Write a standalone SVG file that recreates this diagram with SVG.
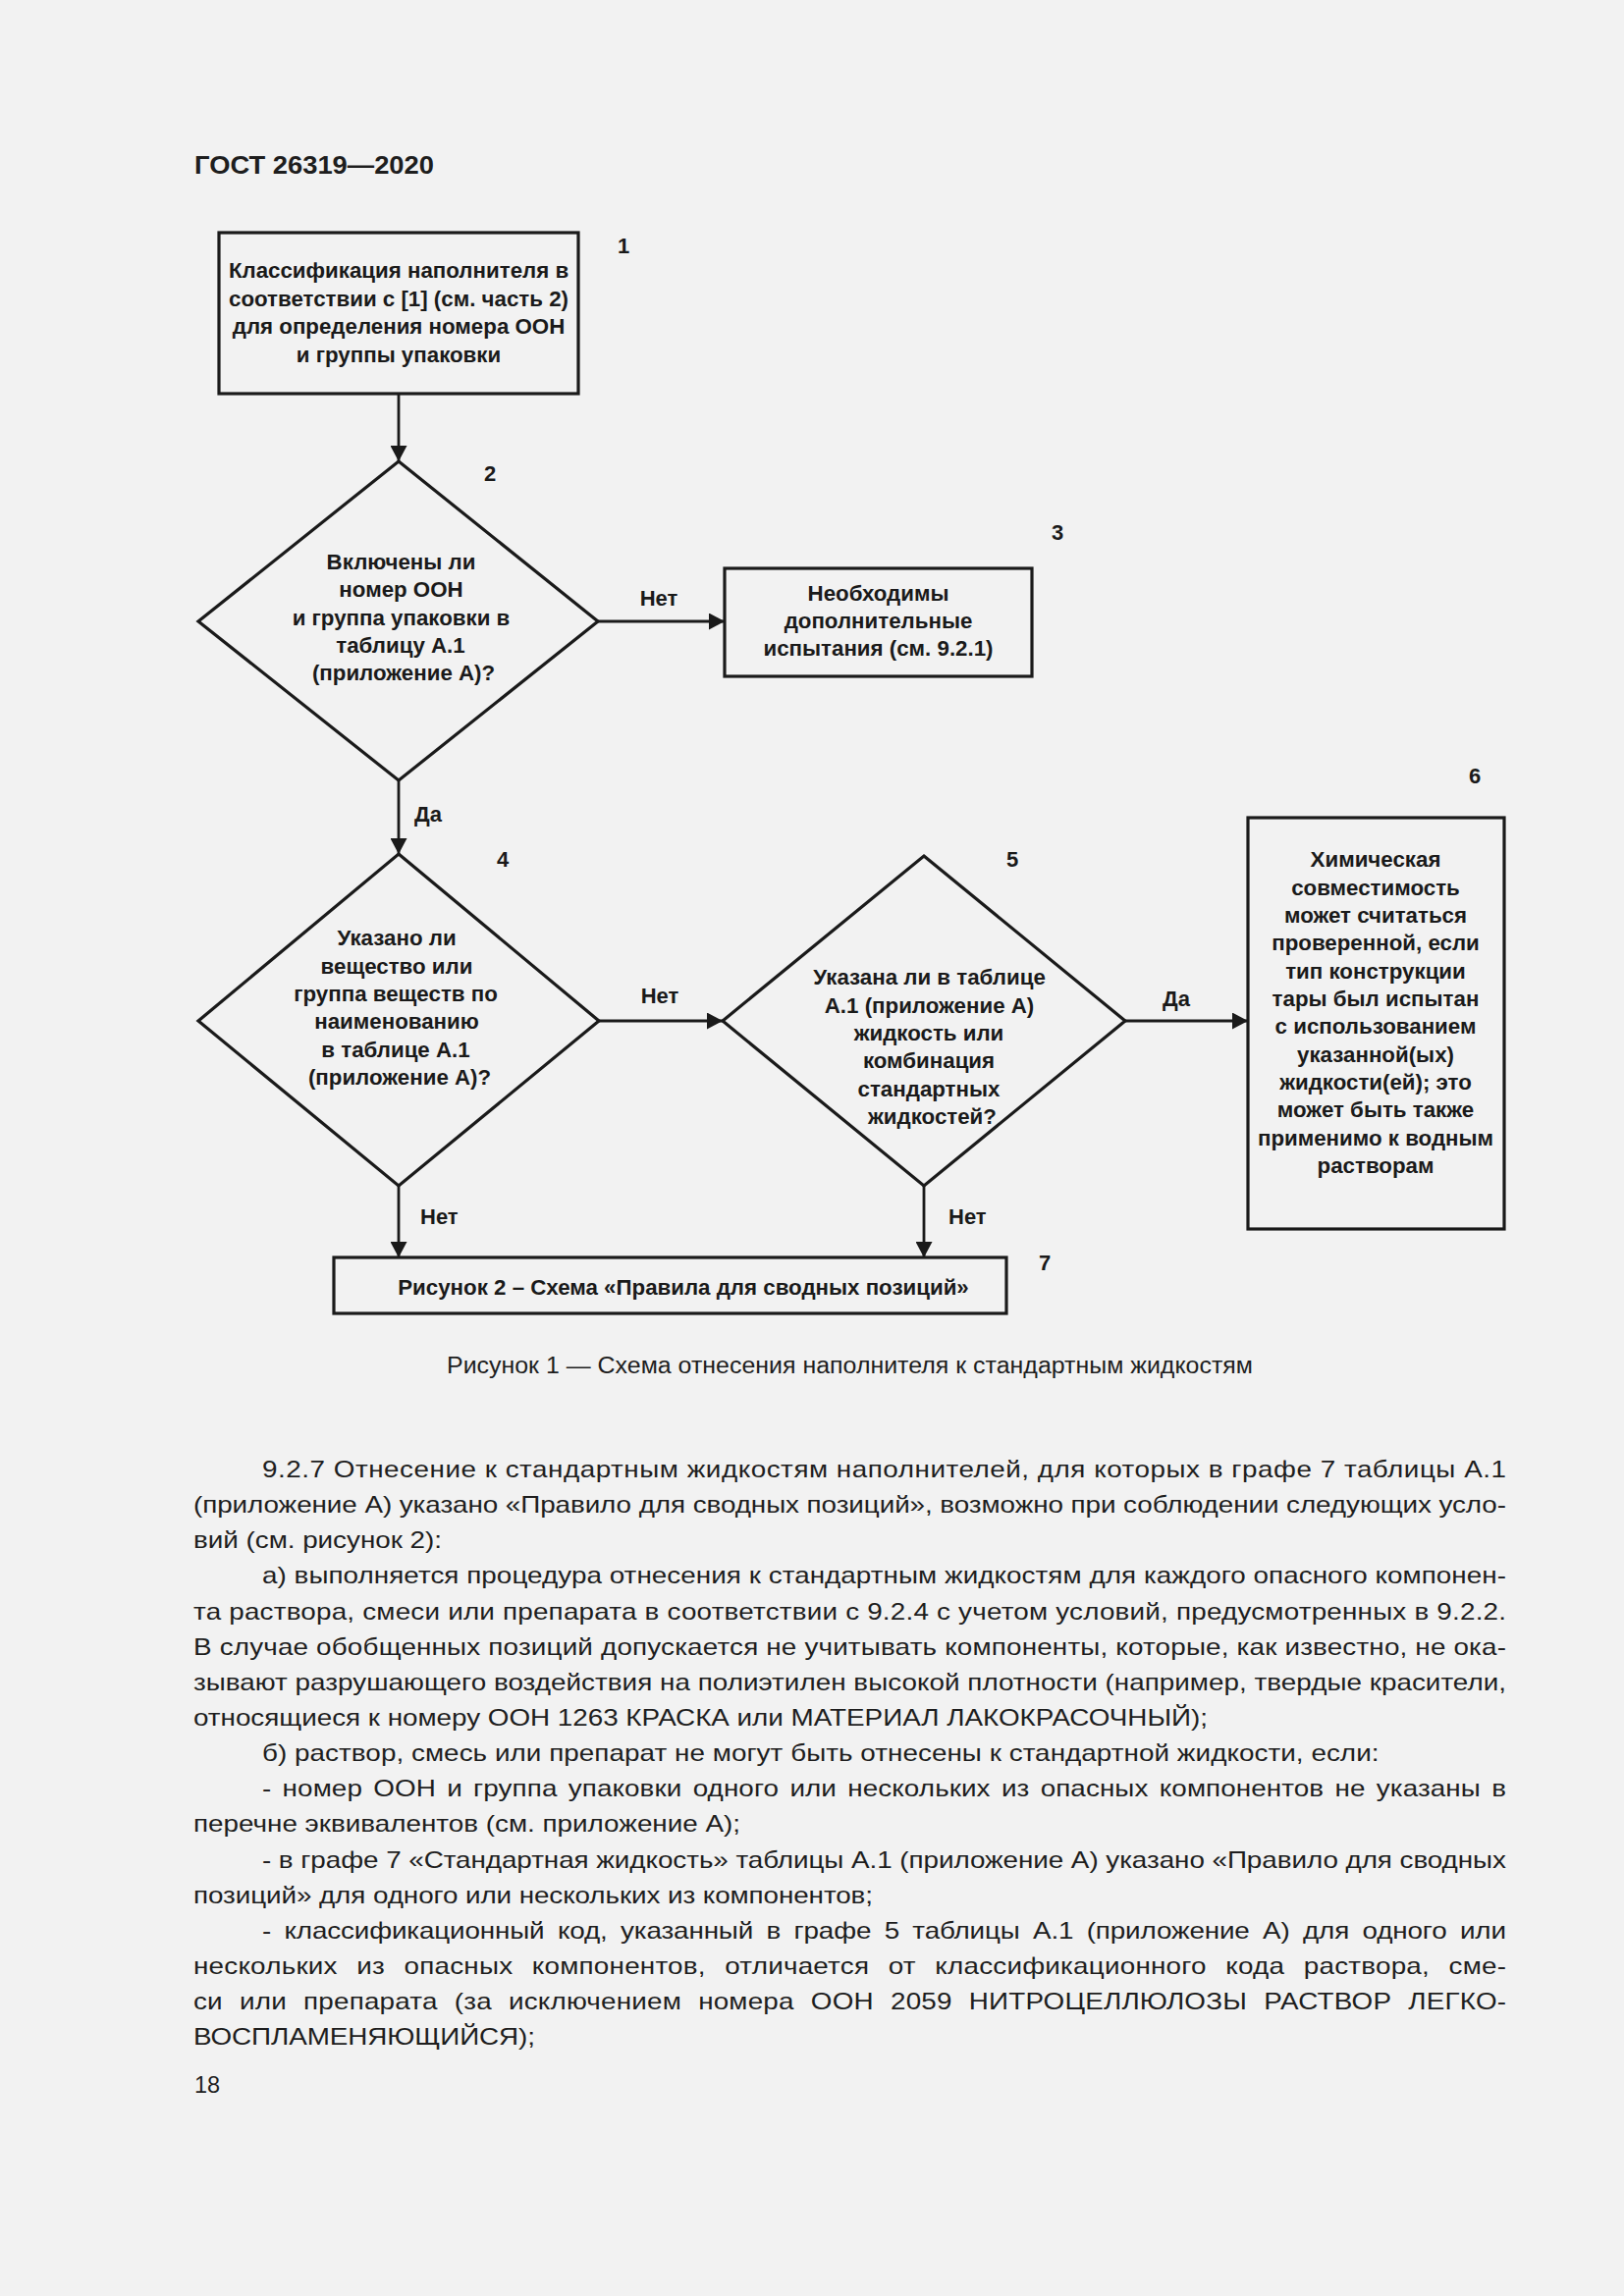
<svg xmlns="http://www.w3.org/2000/svg" width="1654" height="2339" viewBox="0 0 1654 2339">
<defs>
<marker id="arr" markerUnits="userSpaceOnUse" markerWidth="17" markerHeight="17" refX="16" refY="8.5" orient="auto">
<path d="M0,0 L16,8.5 L0,17 z" fill="#1a1a1a"/>
</marker>
<style>
.bg{fill:#f2f2f2}
.shape{fill:none;stroke:#1a1a1a;stroke-width:3.2}
.conn{fill:none;stroke:#1a1a1a;stroke-width:2.8}
.t{font-family:"Liberation Sans",Arial,sans-serif;font-weight:bold;font-size:22.3px;fill:#1a1a1a;text-anchor:middle}
.lbl{font-family:"Liberation Sans",Arial,sans-serif;font-weight:bold;font-size:22px;fill:#1a1a1a}
.num{font-family:"Liberation Sans",Arial,sans-serif;font-weight:bold;font-size:22px;fill:#1a1a1a;text-anchor:middle}
.body{font-family:"Liberation Sans",Arial,sans-serif;font-size:24px;fill:#1e1e1e}
.cap{font-family:"Liberation Sans",Arial,sans-serif;font-size:23.5px;fill:#1e1e1e}
.hdr{font-family:"Liberation Sans",Arial,sans-serif;font-weight:bold;font-size:26px;fill:#1e1e1e}
</style>
</defs>
<rect class="bg" x="0" y="0" width="1654" height="2339"/>

<text class="hdr" x="198" y="177" textLength="244" lengthAdjust="spacingAndGlyphs">ГОСТ 26319—2020</text>

<g id="connectors">
<line class="conn" x1="406" y1="401" x2="406" y2="470" marker-end="url(#arr)"/>
<line class="conn" x1="609" y1="633" x2="738" y2="633" marker-end="url(#arr)"/>
<line class="conn" x1="406" y1="795" x2="406" y2="870" marker-end="url(#arr)"/>
<line class="conn" x1="610" y1="1040" x2="736" y2="1040" marker-end="url(#arr)"/>
<line class="conn" x1="1146" y1="1040" x2="1271" y2="1040" marker-end="url(#arr)"/>
<line class="conn" x1="406" y1="1208" x2="406" y2="1281" marker-end="url(#arr)"/>
<line class="conn" x1="941" y1="1208" x2="941" y2="1281" marker-end="url(#arr)"/>
<text class="num" x="671" y="617">Нет</text>
<text class="lbl" x="422" y="837">Да</text>
<text class="num" x="672" y="1022">Нет</text>
<text class="lbl" x="1184" y="1025">Да</text>
<text class="lbl" x="428" y="1247">Нет</text>
<text class="lbl" x="966" y="1247">Нет</text>
</g>

<g id="node1">
<rect class="shape" x="223" y="237" width="366" height="164"/>
<text class="t" x="406" y="283">Классификация наполнителя в</text>
<text class="t" x="406" y="311.5">соответствии с [1] (см. часть 2)</text>
<text class="t" x="406" y="340">для определения номера ООН</text>
<text class="t" x="406" y="368.5">и группы упаковки</text>
<text class="num" x="635" y="258">1</text>
</g>

<g id="node2">
<polygon class="shape" points="406,470 609,633 406,795 202,633"/>
<text class="t" x="408.5" y="580">Включены ли</text>
<text class="t" x="408.5" y="608.3">номер ООН</text>
<text class="t" x="408.5" y="636.7">и группа упаковки в</text>
<text class="t" x="408" y="665">таблицу А.1</text>
<text class="t" x="411" y="693.3">(приложение А)?</text>
<text class="num" x="499" y="490">2</text>
</g>

<g id="node3">
<rect class="shape" x="738" y="579" width="313" height="110"/>
<text class="t" x="894.5" y="611.7">Необходимы</text>
<text class="t" x="894.5" y="640">дополнительные</text>
<text class="t" x="894.5" y="668.3">испытания (см. 9.2.1)</text>
<text class="num" x="1077" y="550">3</text>
</g>

<g id="node4">
<polygon class="shape" points="406,870 610,1040 406,1208 202,1040"/>
<text class="t" x="404" y="963.3">Указано ли</text>
<text class="t" x="404" y="991.7">вещество или</text>
<text class="t" x="403" y="1020">группа веществ  по</text>
<text class="t" x="404" y="1048.3">наименованию</text>
<text class="t" x="403" y="1076.7">в таблице А.1</text>
<text class="t" x="407" y="1105">(приложение А)?</text>
<text class="num" x="512" y="883">4</text>
</g>

<g id="node5">
<polygon class="shape" points="941,872 1146,1040 941,1208 736,1040"/>
<text class="t" x="946.5" y="1003.3">Указана ли в таблице</text>
<text class="t" x="946.5" y="1031.7">А.1 (приложение А)</text>
<text class="t" x="946" y="1060">жидкость или</text>
<text class="t" x="946" y="1088.3">комбинация</text>
<text class="t" x="946" y="1116.7">стандартных</text>
<text class="t" x="949.5" y="1145">жидкостей?</text>
<text class="num" x="1031" y="883">5</text>
</g>

<g id="node6">
<rect class="shape" x="1271" y="833" width="261" height="419"/>
<text class="t" x="1401" y="883.3">Химическая</text>
<text class="t" x="1401" y="911.6">совместимость</text>
<text class="t" x="1401" y="940">может считаться</text>
<text class="t" x="1401" y="968.3">проверенной, если</text>
<text class="t" x="1401" y="996.6">тип конструкции</text>
<text class="t" x="1401" y="1025">тары был испытан</text>
<text class="t" x="1401" y="1053.3">с использованием</text>
<text class="t" x="1401" y="1081.6">указанной(ых)</text>
<text class="t" x="1401" y="1110">жидкости(ей); это</text>
<text class="t" x="1401" y="1138.3">может быть также</text>
<text class="t" x="1401" y="1166.6">применимо к водным</text>
<text class="t" x="1401" y="1195">растворам</text>
<text class="num" x="1502" y="798">6</text>
</g>

<g id="node7">
<rect class="shape" x="340" y="1281" width="685" height="57"/>
<text class="t" x="696" y="1319">Рисунок 2 – Схема «Правила для сводных позиций»</text>
<text class="num" x="1064" y="1294">7</text>
</g>

<text class="cap" x="455" y="1399" textLength="821" lengthAdjust="spacingAndGlyphs">Рисунок 1 — Схема отнесения наполнителя к стандартным жидкостям</text>

<g transform="scale(1.16 1)">
<text class="body" x="230.17" y="1505" textLength="1092.24" lengthAdjust="spacing">9.2.7 Отнесение к стандартным жидкостям наполнителей, для которых в графе 7 таблицы А.1</text>
<text class="body" x="169.83" y="1541.14" textLength="1152.59" lengthAdjust="spacing">(приложение А) указано «Правило для сводных позиций», возможно при соблюдении следующих усло-</text>
<text class="body" x="169.83" y="1577.28" textLength="218.1" lengthAdjust="spacing">вий (см. рисунок 2):</text>
<text class="body" x="230.17" y="1613.42" textLength="1092.24" lengthAdjust="spacing">а) выполняется процедура отнесения к стандартным жидкостям для каждого опасного компонен-</text>
<text class="body" x="169.83" y="1649.56" textLength="1152.59" lengthAdjust="spacing">та раствора, смеси или препарата в соответствии с 9.2.4 с учетом условий, предусмотренных в 9.2.2.</text>
<text class="body" x="169.83" y="1685.7" textLength="1152.59" lengthAdjust="spacing">В случае обобщенных позиций допускается не учитывать компоненты, которые, как известно, не ока-</text>
<text class="body" x="169.83" y="1721.84" textLength="1152.59" lengthAdjust="spacing">зывают разрушающего воздействия на полиэтилен высокой плотности (например, твердые красители,</text>
<text class="body" x="169.83" y="1757.98" textLength="890.5" lengthAdjust="spacing">относящиеся к номеру ООН 1263 КРАСКА или МАТЕРИАЛ ЛАКОКРАСОЧНЫЙ);</text>
<text class="body" x="230.17" y="1794.12" textLength="980.6" lengthAdjust="spacing">б) раствор, смесь или препарат не могут быть отнесены к стандартной жидкости, если:</text>
<text class="body" x="230.17" y="1830.26" textLength="1092.24" lengthAdjust="spacing" word-spacing="3">- номер ООН и группа упаковки одного или нескольких из опасных компонентов не указаны в</text>
<text class="body" x="169.83" y="1866.4" textLength="480.2" lengthAdjust="spacing">перечне эквивалентов (см. приложение А);</text>
<text class="body" x="230.17" y="1902.54" textLength="1092.24" lengthAdjust="spacing">- в графе 7 «Стандартная жидкость» таблицы А.1 (приложение А) указано «Правило для сводных</text>
<text class="body" x="169.83" y="1938.68" textLength="596.6" lengthAdjust="spacing">позиций» для одного или нескольких из компонентов;</text>
<text class="body" x="230.17" y="1974.82" textLength="1092.24" lengthAdjust="spacing" word-spacing="5">- классификационный код, указанный в графе 5 таблицы А.1 (приложение А) для одного или</text>
<text class="body" x="169.83" y="2010.96" textLength="1152.59" lengthAdjust="spacing" word-spacing="10">нескольких из опасных компонентов, отличается от классификационного кода раствора, сме-</text>
<text class="body" x="169.83" y="2047.1" textLength="1152.59" lengthAdjust="spacing" word-spacing="8">си или препарата (за исключением номера ООН 2059 НИТРОЦЕЛЛЮЛОЗЫ РАСТВОР ЛЕГКО-</text>
<text class="body" x="169.83" y="2083.24" textLength="300" lengthAdjust="spacing">ВОСПЛАМЕНЯЮЩИЙСЯ);</text>
</g>

<text class="cap" x="198" y="2132">18</text>
</svg>
